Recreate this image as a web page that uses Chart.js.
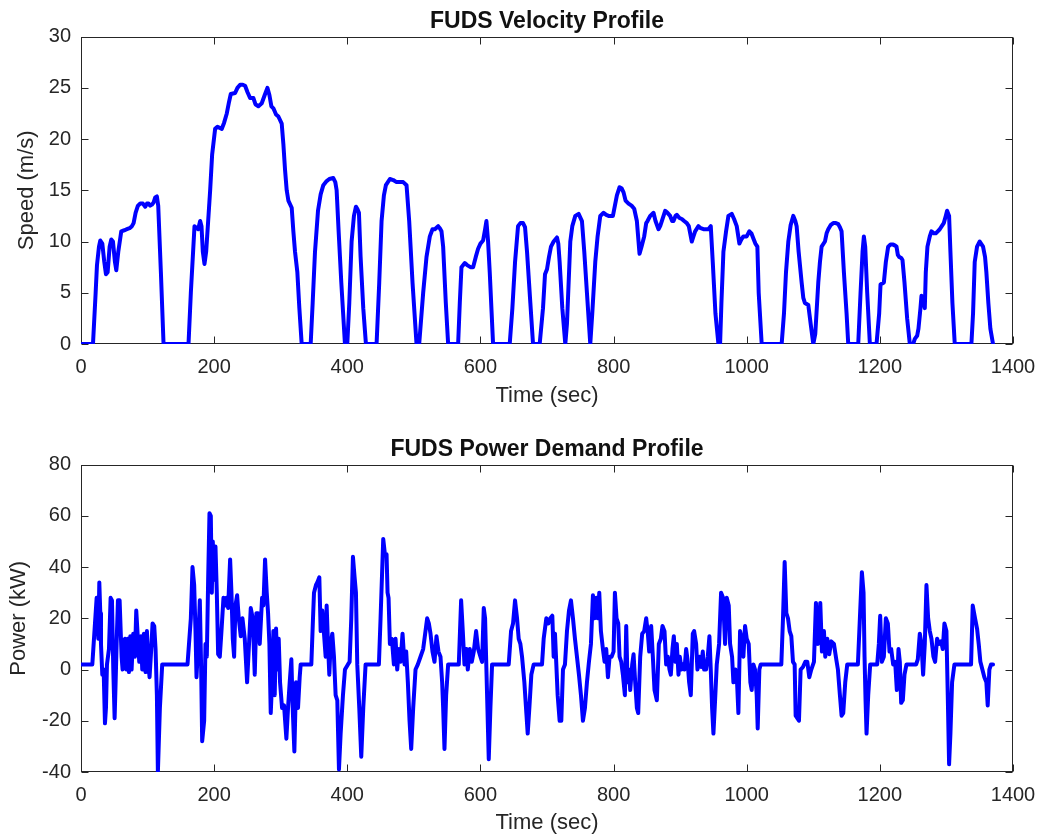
<!DOCTYPE html>
<html>
<head>
<meta charset="utf-8">
<script src="https://cdn.jsdelivr.net/npm/chart.js@4.4.0/dist/chart.umd.min.js"></script>
<style>
  body { margin: 0; background: #fff; width: 1046px; height: 838px; overflow: hidden; position: relative; }
  .box { position: absolute; left: 0; width: 1046px; }
</style>
</head>
<body>
<div class="box" style="top:0;height:420px"><canvas id="vel"></canvas></div>
<div class="box" style="top:428px;height:410px"><canvas id="pow"></canvas></div>
<script>
// velocity profile (sec, m/s)
const timeV = [0,18,22,24,27,29,32,35,37.5,40,43,45.5,48,51,53,56,60.5,65,69,73,76.5,79,82,85.5,89,93,96.5,99,101.5,104,106.5,109,111.5,114,116,120,124,
  161.5,165,170.5,174,176,179,181,183,185.5,188,191,194,197,201.5,205,211.5,215,219,222,225,231.5,235,239,243,246.5,250,254,259,262,266.5,271.5,276,280,283,286,289,293,296.5,301.5,304,306.5,309,311.5,316.5,319,321.5,325,328,331.5,
  345,348,351.5,356,360,364,369,373,379,382,384,387,391,396.5,400,403,406.5,410,413,415,417.5,420,424,428,
  444,448,451.5,455,458,464,469,474,484,489,493,498,504,508,514,519,524,528,531.5,536.5,539,541.5,544,548,551.5,
  566.5,569,571.5,576.5,580,585,589,593,596.5,600,604,607,609,611.5,614,619,644,648,652,656.5,660,664,667,670,675,679,
  689,694,697,700,703,706,710,715,717,719,723,727.5,730,735,738,742.5,747.5,752.5,756,760,765,768,772.5,776,780,785,789,792.5,799,
  802,805,809,812,815,818,822.5,827,831,835,839,842,846,849,851,855,860,863,867.5,870,872.5,877.5,881,885,888,890,893,895,899,902.5,906,910,913,917.5,920,922.5,927.5,931,935,940,942.5,946,949,953,957.5,
  960,962,965,969,972.5,977.5,981,985,989,992,995,1000,1004,1007,1010,1013,1016,1018,1022.5,
  1052.5,1056,1059,1062.5,1066,1070,1073,1075,1078,1082.5,1085,1087.5,1092.5,1096,1100,1103,1107.5,1110,1112.5,1117.5,1120,1122.5,1126,1130,1134,1137.5,1140,1142.5,1146,1150,1152.5,
  1167.5,1171,1174,1176,1178,1181,1185,1195,1199,1201,1206,1209,1212.5,1216,1220,1223,1225,1227,1229,1232,1234,1237,1241,1245,
  1250,1252.5,1256,1258,1261,1262.5,1265,1267.5,1269,1271.5,1275,1277.5,1281,1284,1287,1290,1293,1296,1299,1301,1304,1306,1309,1312.5,
  1337.5,1340,1342.5,1346,1350,1353,1355,1358,1360,1363,1366,1370];
const speed = [0,0,5,7.7,9.5,10.1,9.8,8,6.8,7,9.5,10.2,10,8,7.2,9,11,11.1,11.2,11.3,11.5,11.8,12.8,13.5,13.7,13.7,13.4,13.7,13.7,13.5,13.6,13.8,14.3,14.4,13.5,7,0,
  0,5,11.5,11.3,11.2,12,11.5,9,7.8,9,12,15,18.5,21,21.2,21,21.6,22.5,23.5,24.4,24.5,25,25.3,25.3,25.2,24.6,24,24,23.4,23.2,23.5,24.3,25,24.3,23.2,23,22.4,22.2,21.5,19.5,17,15,14,13.3,11,9,7,3.5,0,
  0,4,9,13,14.6,15.5,15.9,16.1,16.2,15.8,15,11,6,0,0,4,10,12.5,13.4,13.2,12.8,8.5,3.5,0,
  0,6,12,14.5,15.5,16.1,16,15.8,15.8,15.5,12,6,0,0,5,8.5,10.5,11.2,11.2,11.5,11.3,11,9.5,4,0,
  0,4,7.5,7.9,7.7,7.5,7.5,8.5,9.3,9.8,10.1,11.2,12,10,7,0,0,3.5,8,11.5,11.8,11.8,11.4,9,4,0,
  0,3.5,6.8,7.3,8.5,9.5,10,10.4,9.8,8,3.5,0,2,10,11.5,12.5,12.7,12,9,5,0,3,8,10.5,12.5,12.8,12.6,12.5,12.5,
  13.5,14.5,15.3,15.2,14.8,14,13.7,13.5,13.2,12,8.8,9.5,10.5,11.8,12,12.5,12.8,12,11.2,11.5,12,13,12.8,12.5,12,12,12.5,12.6,12.3,12.2,12,11.8,11.5,10,10.5,11,11.5,11.3,11.2,11.2,11.2,11.5,8,3,0,
  0,4,9,11,12.5,12.7,12.2,11.5,9.8,10.2,10.5,10.5,11,10.8,10.3,9.8,9.5,5,0,
  0,3,7,10,11.6,12.5,12,11.5,9,6,4.5,4,3.8,2,0,1,6,8,9.5,10,10.8,11.2,11.6,11.8,11.8,11.7,11.4,11,7,3,0,
  0,5,9,10.5,9.5,5,0,0,3,5.8,6,8,9.5,9.7,9.7,9.6,9.5,8.7,8.5,8.4,8.2,6,2.5,0,
  0,0.5,0.8,1.5,3.5,4.7,4.5,3.5,7,9.5,10.5,11,10.8,10.8,11,11.2,11.5,11.8,12.5,13,12.5,9,4,0,
  0,3,8,9.5,10,9.7,9.5,8.5,7,4,1.5,0];

// power demand profile (sec, kW)
const timeP = [0,17,18.5,21,23.5,25,26,27.5,29,30,32,34,36,37.5,39,42,44.5,46.5,48.5,50.5,52,53.5,55.5,58,61,62.5,64,66,68,70,72,74,76,78.5,81,83,85,87.5,90,92,94.5,97,99,101,103,105.5,107.5,110,112,114,115.5,118.5,122,
  160,165,167.5,170,172,173.5,176,178.5,180.5,182,185,187,189,191,193,195,196.5,198,200,202,204,206,208.5,211,214,216,218.5,221,224,226,228,230,232,234.5,237,240,242.5,246,249.5,252,255,258,261,263.5,266,268.5,272,274,276.5,279,281,283,285,287,289,291,293,295,297,299,302,305,308.5,311,313.5,316,318,320.5,323,326,328.5,330,
  346,348.5,350,353,355,358,360,362.5,365,367.5,369,371,373,375,377.5,380,382.5,385,387.5,390,393.5,396.5,401,403.5,406,408.5,411,413,415,418,421,424,427.5,
  447.5,450,454,456.5,459,460.5,462,464,467,470,472.5,475,477.5,480,483,486,488.5,491,493.5,496,499,502.5,506,510,514,517.5,520,522.5,525,528,531,534,537,540,542.5,544,546,548.5,551.5,
  567.5,571,573.5,576,579,581,584,587,590,593.5,596.5,600,602.5,605,607,608.5,610.5,612.5,615,617.5,
  642.5,646,649,652,655,657.5,660,662.5,666,669,671,673.5,676.5,680,
  692.5,695,699,702,705,708,710,712,714,716,719,721.5,724,727,730,733,736,739,742,745,748,751,754,757,760,763,766,769,771.5,774,776.5,778.5,781,784,786.5,789,791.5,794,797,
  800,802,804.5,807,809,811.5,814,817,819,821,823,825,828,830,832.5,835,837,840,843,846,849,851.5,853.5,856.5,859,861.5,865,868,871,873.5,876.5,879,881.5,884,886,888.5,890.5,893,895,897.5,899.5,902,904,906.5,909,911,913.5,916,919,921,924,926,929,931.5,934,936,939,941.5,944,946,948,950,952.5,955,958.5,961.5,964.5,967.5,970,973,975,978,980,983,985.5,987.5,990,992.5,995,997.5,
  1000,1003,1005.5,1007.5,1010,1012.5,1015,1016.5,1019,1021,
  1052,1054.5,1057,1059.5,1062,1064.5,1067,1069.5,1072,1073.5,1076,1078.5,1081,1084.5,1088,1091,1094,1097,1101,1104,1107,1110.5,1113,1116,1118,1121,1124,1127,1131,1134.5,1137,1140,1142.5,1145,1148,1151,
  1167,1170,1173,1175.5,1177,1178.5,1180,1182.5,1185.5,1196,1198.5,1200.5,1203,1206,1209,1212,1214.5,1217,1220,1223,1225.5,1228,1230,1232,1234.5,1237,1240,
  1254.5,1257,1260,1262.5,1265,1267.5,1270,1272.5,1275,1277.5,1280.5,1283,1286,1289,1292,1294.5,1297,1300,1302,1304,1306,1308.5,1312,
  1337,1339.5,1343,1346,1348.5,1351,1354,1357,1360,1362,1364.5,1367,1370];
const power = [2,2,8,18,28,20,12,34,22,10,-2,0,-21,-15,2,8,28,27,0,-19,-5,10,27,27,5,0,10,12,0,12,-1,13,0,14,5,23,14,3,13,0,14,-1,15,3,-3,8,18,17,8,-10,-40,-15,2,
  2,20,40,33,15,-3,10,27,0,-28,-20,10,5,35,61,60,30,50,35,48,30,6,5,15,28,25,28,24,43,30,12,5,25,29,20,13,20,12,-5,8,24,20,-2,22,22,10,28,25,43,30,22,10,-17,-5,15,-10,16,0,12,-5,-15,-14,-27,-15,-5,4,-15,-32,-5,-15,-3,2,
  2,20,30,33,34,36,15,23,14,5,25,10,-2,10,14,5,-10,-12,-39,-25,-10,0,2,3,20,44,36,30,2,-15,-34,-15,2,
  2,20,51,45,45,30,28,10,12,2,12,0,8,3,14,2,7,-5,-20,-31,-15,0,2,5,8,15,20,18,14,7,3,13,7,5,-5,-15,-31,-10,2,
  2,27,15,2,8,0,8,3,7,15,8,5,3,24,20,5,-15,-35,-15,2,
  2,15,18,27,20,12,10,5,-5,-17,-25,-15,-2,2,
  2,12,20,18,20,21,5,14,2,-10,-20,-20,0,2,15,23,27,20,12,5,-2,-10,-20,-15,-5,3,10,29,20,28,20,30,15,8,3,8,-3,5,5,
  7,30,20,18,5,3,-2,-10,17,-5,0,-8,2,6,-5,-15,-17,5,14,15,20,14,7,17,5,-8,-12,10,12,17,15,2,5,0,-2,8,13,3,10,-2,5,0,2,0,8,4,-5,-10,14,15,10,0,5,1,7,0,0,5,13,0,-15,-25,-12,2,10,30,28,10,28,25,10,5,-5,0,-5,-17,15,12,5,17,
  12,10,-5,-8,2,0,-10,-23,0,2,
  2,20,42,22,20,15,13,3,2,-18,-19,-20,0,1,3,3,-3,0,3,26,10,26,7,15,5,12,6,11,10,4,0,-10,-18,-17,-5,2,
  2,20,38,30,5,-12,-25,-10,2,2,10,21,3,5,20,18,7,8,2,3,-8,8,3,-13,-12,-2,2,
  2,4,14,10,-2,10,33,20,15,12,5,3,12,10,11,8,18,15,-10,-37,-25,-5,2,
  2,25,20,16,10,3,0,-3,-5,-14,0,2,2];

const xTicks = { min: 0, max: 1400, step: 200 };
const font = '"Liberation Sans", Arial, Helvetica, sans-serif';
const ink = '#262626';

// MATLAB style box with inward ticks
const matlabBox = {
  id: 'matlabBox',
  beforeDatasetsDraw(chart) {
    const { ctx, chartArea: a, scales: { x, y } } = chart;
    const L = Math.round(a.left) + 0.5, R = Math.round(a.right) - 0.5;
    const T = Math.round(a.top) + 0.5, B = Math.round(a.bottom) - 0.5;
    ctx.save();
    ctx.strokeStyle = ink;
    ctx.lineWidth = 1;
    ctx.strokeRect(L, T, R - L, B - T);
    ctx.beginPath();
    x.ticks.forEach(t => {
      const px = Math.round(x.getPixelForValue(t.value)) + 0.5;
      ctx.moveTo(px, B); ctx.lineTo(px, B - 7);
      ctx.moveTo(px, T); ctx.lineTo(px, T + 7);
    });
    y.ticks.forEach(t => {
      const py = Math.round(y.getPixelForValue(t.value)) + 0.5;
      ctx.moveTo(L, py); ctx.lineTo(L + 7, py);
      ctx.moveTo(R, py); ctx.lineTo(R - 7, py);
    });
    ctx.stroke();
    ctx.restore();
  }
};

function makeChart(id, xs, ys, o) {
  return new Chart(document.getElementById(id), {
    type: 'line',
    data: {
      datasets: [{
        data: xs.map((t, i) => ({ x: t, y: ys[i] })),
        borderColor: '#0000ff',
        borderWidth: 4,
        pointRadius: 0,
        tension: 0,
        borderJoinStyle: 'round',
        borderCapStyle: 'round'
      }]
    },
    options: {
      animation: false,
      responsive: true,
      maintainAspectRatio: false,
      layout: { padding: { left: 0, right: 33, top: 0, bottom: 0 } },
      plugins: {
        legend: { display: false },
        tooltip: { enabled: false },
        title: {
          display: true, text: o.title, color: '#111', fullSize: false,
          font: { family: font, size: 23, weight: 'bold' },
          padding: { top: 7.5, bottom: 1.5 }
        }
      },
      scales: {
        x: {
          type: 'linear', min: xTicks.min, max: xTicks.max,
          grid: { display: false, drawTicks: false },
          border: { display: false },
          ticks: { stepSize: xTicks.step, color: ink, font: { family: font, size: 20 }, padding: 11, maxRotation: 0,
                   callback: v => String(v) },
          title: { display: true, text: 'Time (sec)', color: ink, font: { family: font, size: 22 }, padding: { top: 0, bottom: o.xTitlePad } },
          afterFit: s => { s.height = o.xH; s.paddingLeft = 0; s.paddingRight = 0; }
        },
        y: {
          type: 'linear', min: o.yMin, max: o.yMax,
          grid: { display: false, drawTicks: false },
          border: { display: false },
          ticks: { stepSize: o.yStep, color: ink, font: { family: font, size: 20 }, padding: 10 },
          title: { display: true, text: o.yLabel, color: ink, font: { family: font, size: 22 }, padding: { top: o.yTitlePad, bottom: 0 } },
          afterFit: s => { s.width = 81; }
        }
      }
    },
    plugins: [matlabBox]
  });
}

makeChart('vel', timeV, speed, {
  title: 'FUDS Velocity Profile', yLabel: 'Speed (m/s)',
  yMin: 0, yMax: 30, yStep: 5, xH: 76, xTitlePad: 10.8, yTitlePad: 13.8
});
makeChart('pow', timeP, power, {
  title: 'FUDS Power Demand Profile', yLabel: 'Power (kW)',
  yMin: -40, yMax: 80, yStep: 20, xH: 66, xTitlePad: 1.8, yTitlePad: 5.8
});
</script>
</body>
</html>
